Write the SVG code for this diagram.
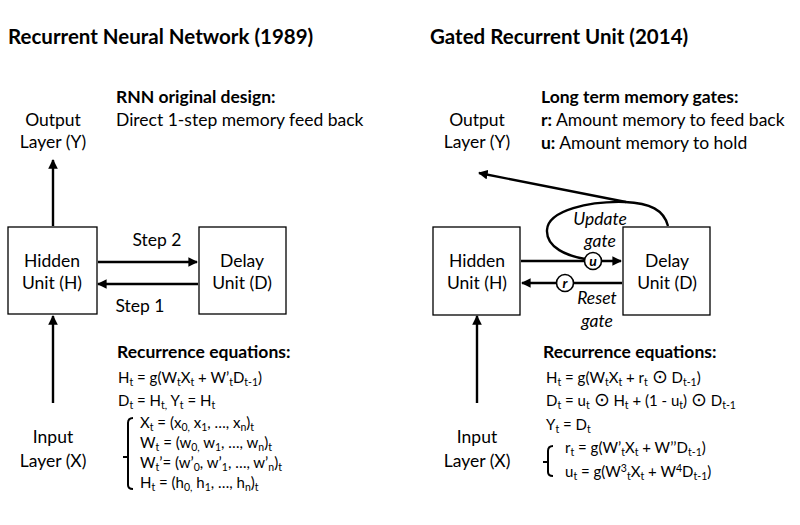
<svg xmlns="http://www.w3.org/2000/svg" width="800" height="525" viewBox="0 0 800 525">
<defs>
<style>
text{font-family:Lato,"Open Sans","Liberation Sans",sans-serif;fill:#000}
.title{font-size:20.5px;font-weight:bold}
.lbl{font-size:17.5px}
.c{text-anchor:middle}
.b{font-weight:bold}
.eq{font-size:15px}
.it{font-style:italic}
.s{font-size:10.5px;baseline-shift:-3px}
.p{font-size:10.5px;baseline-shift:5px}
.o{font-size:19px}
.box{fill:#fff;stroke:#000;stroke-width:1.3}
.ar{fill:none;stroke:#000;stroke-width:2.4}
.gc{fill:#fff;stroke:#000;stroke-width:1.6}
.br{fill:none;stroke:#000;stroke-width:2}
</style>
<marker id="ah" viewBox="0 0 10 10" refX="9" refY="5" markerWidth="4" markerHeight="4" orient="auto-start-reverse" markerUnits="strokeWidth">
<path d="M0,0 L10,5 L0,10 Z" fill="#000"/>
</marker>
</defs>
<rect width="800" height="525" fill="#fff"/>

<!-- Titles and notes -->
<text class="title" x="8" y="44">Recurrent Neural Network (1989)</text>
<text class="title" x="430" y="44">Gated Recurrent Unit (2014)</text>
<text class="lbl b" x="116" y="103">RNN original design:</text>
<text class="lbl" x="116" y="126">Direct 1-step memory feed back</text>
<text class="lbl b" x="541" y="103">Long term memory gates:</text>
<text class="lbl" x="541" y="126"><tspan class="b">r:</tspan> Amount memory to feed back</text>
<text class="lbl" x="541" y="149"><tspan class="b">u:</tspan> Amount memory to hold</text>

<!-- Connectors -->
<g id="connectors">
<line class="ar" x1="53" y1="226" x2="53" y2="160" marker-end="url(#ah)"/>
<line class="ar" x1="53" y1="403" x2="53" y2="316" marker-end="url(#ah)"/>
<line class="ar" x1="98" y1="262" x2="197" y2="262" marker-end="url(#ah)"/>
<line class="ar" x1="198" y1="284" x2="98" y2="284" marker-end="url(#ah)"/>
<line class="ar" x1="477" y1="403" x2="477" y2="316" marker-end="url(#ah)"/>
<line class="ar" x1="521" y1="261" x2="621" y2="261" marker-end="url(#ah)"/>
<line class="ar" x1="622" y1="283" x2="522" y2="283" marker-end="url(#ah)"/>
<path class="ar" d="M668,226 C664,210 650,203 625,202 C590,201 548,210 547,230 C546,248 568,256 585,259"/>
<line class="ar" x1="626" y1="202" x2="479" y2="173" marker-end="url(#ah)"/>
</g>

<!-- Left RNN nodes -->
<g id="rnn-output"><text class="lbl c" x="53" y="126">Output</text><text class="lbl c" x="53" y="148">Layer (Y)</text></g>
<g id="rnn-hidden"><rect class="box" x="8" y="227" width="89" height="87"/><text class="lbl c" x="52" y="267">Hidden</text><text class="lbl c" x="52" y="289">Unit (H)</text></g>
<g id="rnn-delay"><rect class="box" x="199" y="227" width="87" height="87"/><text class="lbl c" x="242" y="267">Delay</text><text class="lbl c" x="242" y="289">Unit (D)</text></g>
<g id="rnn-input"><text class="lbl c" x="53" y="443">Input</text><text class="lbl c" x="53" y="467">Layer (X)</text></g>
<text class="lbl c" x="157" y="246">Step 2</text>
<text class="lbl c" x="140" y="312">Step 1</text>

<!-- Right GRU nodes -->
<g id="gru-output"><text class="lbl c" x="477" y="126">Output</text><text class="lbl c" x="477" y="148">Layer (Y)</text></g>
<g id="gru-hidden"><rect class="box" x="433" y="227" width="87" height="88"/><text class="lbl c" x="477" y="267">Hidden</text><text class="lbl c" x="477" y="289">Unit (H)</text></g>
<g id="gru-delay"><rect class="box" x="623" y="227" width="87" height="88"/><text class="lbl c" x="667" y="267">Delay</text><text class="lbl c" x="667" y="289">Unit (D)</text></g>
<g id="gru-input"><text class="lbl c" x="477" y="443">Input</text><text class="lbl c" x="477" y="467">Layer (X)</text></g>
<g id="gate-u"><circle class="gc" cx="593" cy="261" r="8.5"/><text class="it b c" x="593" y="265.5" font-size="14">u</text></g>
<g id="gate-r"><circle class="gc" cx="565" cy="283" r="8.5"/><text class="it b c" x="565" y="287.5" font-size="14">r</text></g>
<text class="lbl it c" x="600" y="225">Update</text>
<text class="lbl it c" x="600" y="247">gate</text>
<text class="lbl it c" x="597" y="304">Reset</text>
<text class="lbl it c" x="597" y="327">gate</text>

<!-- Left equations -->
<g id="rnn-equations">
<text class="lbl b" x="117" y="358">Recurrence equations:</text>
<text class="eq" x="118" y="383">H<tspan class="s">t</tspan> = g(W<tspan class="s">t</tspan>X<tspan class="s">t</tspan> + W’<tspan class="s">t</tspan>D<tspan class="s">t-1</tspan>)</text>
<text class="eq" x="118" y="406">D<tspan class="s">t</tspan> = H<tspan class="s">t,</tspan> Y<tspan class="s">t</tspan> = H<tspan class="s">t</tspan></text>
<path class="br" d="M133,418 Q128,418 128,423 L128,485 Q128,489 133,489 M128,457 L123,457"/>
<text class="eq" x="140" y="428">X<tspan class="s">t</tspan> = (x<tspan class="s">0,</tspan> x<tspan class="s">1</tspan>, …, x<tspan class="s">n</tspan>)<tspan class="s">t</tspan></text>
<text class="eq" x="140" y="448">W<tspan class="s">t</tspan> = (w<tspan class="s">0,</tspan> w<tspan class="s">1</tspan>, …, w<tspan class="s">n</tspan>)<tspan class="s">t</tspan></text>
<text class="eq" x="140" y="468">W<tspan class="s">t</tspan>’= (w’<tspan class="s">0</tspan>, w’<tspan class="s">1</tspan>, …, w’<tspan class="s">n</tspan>)<tspan class="s">t</tspan></text>
<text class="eq" x="140" y="488">H<tspan class="s">t</tspan> = (h<tspan class="s">0,</tspan> h<tspan class="s">1</tspan>, …, h<tspan class="s">n</tspan>)<tspan class="s">t</tspan></text>
</g>

<!-- Right equations -->
<g id="gru-equations">
<text class="lbl b" x="543" y="358">Recurrence equations:</text>
<text class="eq" x="546" y="383">H<tspan class="s">t</tspan> = g(W<tspan class="s">t</tspan>X<tspan class="s">t</tspan> + r<tspan class="s">t</tspan> <tspan class="o">⊙</tspan> D<tspan class="s">t-1</tspan>)</text>
<text class="eq" x="546" y="406">D<tspan class="s">t</tspan> = u<tspan class="s">t</tspan> <tspan class="o">⊙</tspan> H<tspan class="s">t</tspan> + (1 - u<tspan class="s">t</tspan>) <tspan class="o">⊙</tspan> D<tspan class="s">t-1</tspan></text>
<text class="eq" x="546" y="430">Y<tspan class="s">t</tspan> = D<tspan class="s">t</tspan></text>
<path class="br" d="M553,446 Q548,446 548,451 L548,472 Q548,476 553,476 M548,462 L543,462"/>
<text class="eq" x="565" y="453">r<tspan class="s">t</tspan> = g(W’<tspan class="s">t</tspan>X<tspan class="s">t</tspan> + W’’D<tspan class="s">t-1</tspan>)</text>
<text class="eq" x="565" y="477">u<tspan class="s">t</tspan> = g(W<tspan class="p">3</tspan><tspan class="s">t</tspan>X<tspan class="s">t</tspan> + W<tspan class="p">4</tspan>D<tspan class="s">t-1</tspan>)</text>
</g>
</svg>
